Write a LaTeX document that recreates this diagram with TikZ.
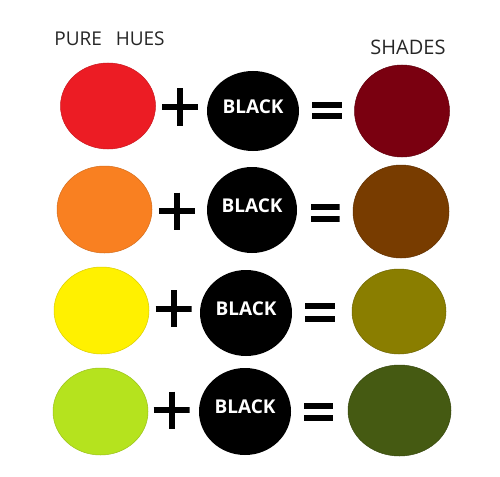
\documentclass[tikz,border=0pt]{standalone}
\usepackage{fontspec}
\setmainfont{Open Sans}
\usepackage{tikz}
\usetikzlibrary{shapes.geometric}
\usetikzlibrary{positioning}

\definecolor{huered}{HTML}{EC1C24}
\definecolor{hueorange}{HTML}{F98021}
\definecolor{hueyellow}{HTML}{FFF100}
\definecolor{huelime}{HTML}{B5E31E}
\definecolor{shadered}{HTML}{7A0010}
\definecolor{shadebrown}{HTML}{783C00}
\definecolor{shadeolive}{HTML}{8A7E00}
\definecolor{shadegreen}{HTML}{455A12}

\begin{document}
\begin{tikzpicture}[x=1pt, y=-1pt]

\tikzstyle{heading} = [inner sep=0pt, font=\fontsize{19}{21}\selectfont, text=black!85]
\tikzstyle{hue} = [ellipse, inner sep=0pt, minimum width=95pt, minimum height=87pt, draw=#1!85!black, line width=0.5pt, fill=#1]
\tikzstyle{shade} = [ellipse, inner sep=0pt, minimum width=95pt, minimum height=90pt, draw=#1!80!black, line width=0.5pt, fill=#1]
\tikzstyle{blackdot} = [ellipse, inner sep=0pt, minimum width=92pt, minimum height=86pt, fill=black, text=white, text depth=9pt, font=\fontsize{19}{21}\selectfont\bfseries]
\tikzstyle{plussign} = [rectangle, inner sep=0pt, minimum width=36pt, minimum height=37pt, path picture={
  \draw [line width=6pt] (path picture bounding box.north) -- (path picture bounding box.south);
  \draw [line width=6pt] (path picture bounding box.west) -- (path picture bounding box.east);}]
\tikzstyle{equalsign} = [rectangle, inner sep=0pt, minimum width=30pt, minimum height=18pt, path picture={
  \fill (path picture bounding box.north west) rectangle ([yshift=-6pt]path picture bounding box.north east);
  \fill (path picture bounding box.south west) rectangle ([yshift=6pt]path picture bounding box.south east);}]

\useasboundingbox (0,0) rectangle (500,476);

% headings
\node (pure) [heading] at (109.5,39) {PURE\hspace{9pt} HUES};
\node (shades) [heading, font=\fontsize{20}{22}\selectfont] at (408,47) {SHADES};

% red row
\node (red) [hue=huered, minimum height=86pt] at (108,106) {};
\node (plusa) [plussign] at (180,107) {};
\node (blacka) [blackdot, minimum height=80pt] at (253,111) {BLACK};
\node (equala) [equalsign, minimum height=17pt] at (327,110.5) {};
\node (darkred) [shade=shadered, minimum height=92pt] at (402,111) {};

% orange row
\node (orange) [hue=hueorange] at (104.5,209.5) {};
\node (plusb) [plussign] at (177,211) {};
\node (blackb) [blackdot, minimum width=90pt] at (252,210) {BLACK};
\node (equalb) [equalsign, minimum width=29pt] at (325,213) {};
\node (brown) [shade=shadebrown, minimum width=96pt, minimum height=93pt] at (401,211.5) {};

% yellow row
\node (yellow) [hue=hueyellow] at (101.5,310.5) {};
\node (plusc) [plussign] at (173.5,308.5) {};
\node (blackc) [blackdot] at (246,313) {BLACK};
\node (equalc) [equalsign, minimum height=19pt] at (320,312) {};
\node (olive) [shade=shadeolive, minimum width=94pt, minimum height=85pt] at (399,311.5) {};

% lime row
\node (lime) [hue=huelime] at (100.5,411.5) {};
\node (plusd) [plussign] at (171.5,410) {};
\node (blackd) [blackdot, minimum height=87pt] at (245,411.5) {BLACK};
\node (equald) [equalsign, minimum width=29pt] at (318.5,412) {};
\node (darkgreen) [shade=shadegreen, minimum width=103pt, minimum height=91pt] at (399.5,410.5) {};

\end{tikzpicture}
\end{document}
